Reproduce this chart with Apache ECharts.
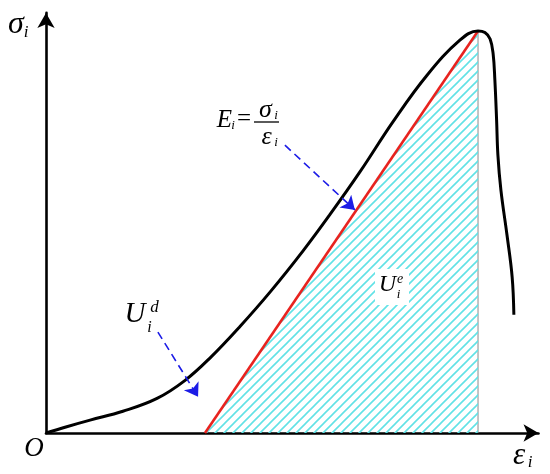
<!DOCTYPE html>
<html>
<head>
<meta charset="utf-8">
<script src="https://cdn.jsdelivr.net/npm/echarts@6/dist/echarts.min.js"></script>
<style>html,body{margin:0;padding:0;background:#fff}#c{width:550px;height:474px}</style>
</head>
<body>
<div id="c"></div>
<script>
// Stress-strain curve (normalised: peak strain = 100, peak stress = 100)
const curveStrain = [0, 4.6, 10.2, 17.8, 25.7, 32.2, 38.0, 44.9, 51.9, 59.5, 65.7, 72.7, 80.3, 88.2, 95.8, 100, 101.6, 102.8, 103.5, 103.9, 104.3, 104.6, 105.3, 106.7, 107.9, 108.3];
const curveStress = [0, 1.5, 3.2, 5.4, 8.6, 13.1, 18.7, 26.5, 35.1, 45.3, 54.3, 65.0, 77.4, 89.0, 97.7, 100, 99.6, 98.0, 94.3, 87.8, 77.9, 69.2, 60.4, 49.3, 38.8, 29.4];
// Elastic unloading line (red)
const elasticStrain = [36.8, 100];
const elasticStress = [0, 100];
// Peak vertical
const peakStrain = [100, 100];
const peakStress = [0, 100];
// Annotation arrows: [fromX, fromY, toX, toY]
const arrowE = [55.3, 71.6, 71.5, 55.5];
const arrowUd = [25.9, 25.1, 35.2, 9.0];

const zip = (a, b) => a.map((v, i) => [v, b[i]]);

function hatch() {
  const s = 9;
  const c = document.createElement('canvas');
  c.width = s; c.height = s;
  const g = c.getContext('2d');
  g.strokeStyle = '#62e2e6';
  g.lineWidth = 1.6;
  g.beginPath();
  g.moveTo(-2, s + 2); g.lineTo(s + 2, -2);
  g.moveTo(-2, 2); g.lineTo(2, -2);
  g.moveTo(s - 2, s + 2); g.lineTo(s + 2, s - 2);
  g.stroke();
  return c;
}

const chart = echarts.init(document.getElementById('c'), null, {renderer: 'canvas'});
const serif = '"Liberation Serif", "Times New Roman", serif';
function t(txt, x, y, size, italic) {
  return {
    type: 'text', x: x, y: y, z: 100,
    style: {
      text: txt, fill: '#000',
      font: (italic === false ? '' : 'italic ') + size + 'px ' + serif,
      textAlign: 'center', textVerticalAlign: 'middle'
    }
  };
}

const axisCommon = {
  type: 'value',
  axisTick: {show: false},
  axisLabel: {show: false},
  splitLine: {show: false},
  axisLine: {
    show: true,
    symbol: ['none', 'arrow'],
    symbolSize: [13, 15],
    lineStyle: {color: '#000', width: 2.6}
  }
};

chart.setOption({
  animation: false,
  grid: {left: 46, right: 11.5, top: 12.9, bottom: 41},
  xAxis: Object.assign({}, axisCommon, {min: 0, max: 114}),
  yAxis: Object.assign({}, axisCommon, {min: 0, max: 104.5}),
  series: [
    {
      type: 'line', data: zip(elasticStrain, elasticStress), symbol: 'none', z: 2,
      lineStyle: {color: '#e8231f', width: 2.6},
      areaStyle: {color: {image: hatch(), repeat: 'repeat'}, opacity: 1}
    },
    {
      type: 'line', data: zip(peakStrain, peakStress), symbol: 'none', z: 1,
      lineStyle: {color: '#8a8a8a', width: 1}
    },
    {
      type: 'line', data: zip(curveStrain, curveStress), symbol: 'none', smooth: 0.4, z: 3,
      lineStyle: {color: '#000', width: 3}
    },
    {
      type: 'lines', coordinateSystem: 'cartesian2d', z: 4,
      symbol: ['none', 'arrow'], symbolSize: 13,
      lineStyle: {color: '#1c1ce6', width: 1.6, type: [8, 5], opacity: 1},
      data: [
        {coords: [[arrowE[0], arrowE[1]], [arrowE[2], arrowE[3]]]},
        {coords: [[arrowUd[0], arrowUd[1]], [arrowUd[2], arrowUd[3]]]}
      ]
    }
  ],
  graphic: [
    t('σ', 16, 25, 32), t('i', 26, 33, 17),
    t('O', 34, 448.5, 27),
    t('ε', 519, 456, 31), t('i', 530, 463, 17),
    t('E', 224.5, 120.5, 25), t('i', 233, 126, 13),
    t('=', 244, 119, 25, false),
    {type: 'line', z: 100, shape: {x1: 254, y1: 122, x2: 279, y2: 122}, style: {stroke: '#000', lineWidth: 1.3}},
    t('σ', 265.5, 110, 26), t('i', 276, 115.5, 13),
    t('ε', 266.5, 137.5, 26), t('i', 276, 143, 13),
    t('U', 135, 314, 29), t('d', 154.5, 307.5, 17), t('i', 149.5, 327.5, 16),
    {type: 'rect', z: 99, shape: {x: 375, y: 269, width: 34, height: 36}, style: {fill: '#fff'}},
    t('U', 387.5, 285, 24), t('e', 400, 279, 14), t('i', 398.5, 294.5, 13)
  ]
});
</script>
</body>
</html>
